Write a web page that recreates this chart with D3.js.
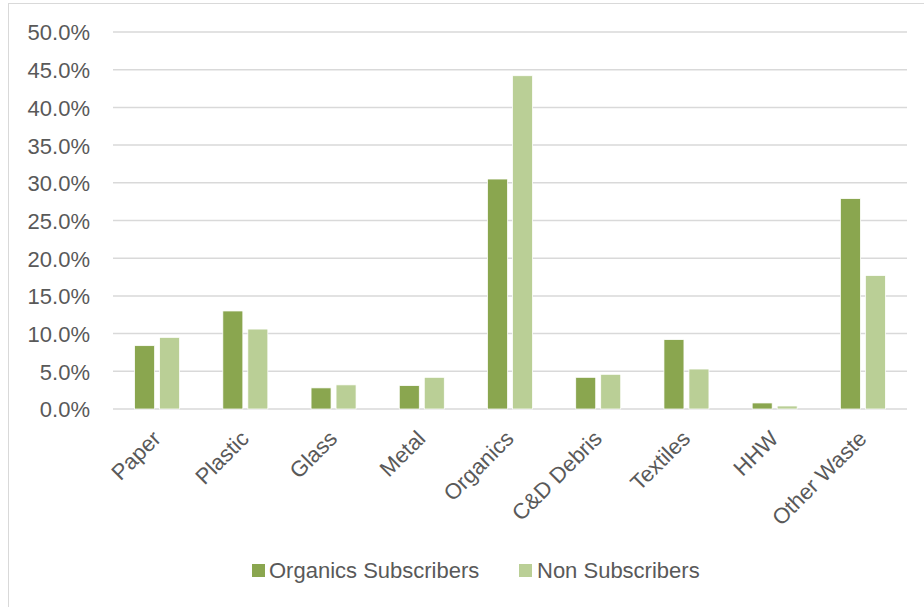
<!DOCTYPE html>
<html>
<head>
<meta charset="utf-8">
<script src="https://cdn.jsdelivr.net/npm/d3@7"></script>
<style>
  html, body { margin: 0; padding: 0; background: #fff; }
  svg { display: block; }
  text { font-family: "Liberation Sans", Arial, sans-serif; fill: #595959; }
</style>
</head>
<body>
<svg id="chart" width="924" height="607"></svg>
<script>
const categories = ["Paper", "Plastic", "Glass", "Metal", "Organics", "C&D Debris", "Textiles", "HHW", "Other Waste"];
const seriesNames = ["Organics Subscribers", "Non Subscribers"];
const organicsSubscribers = [8.4, 13.0, 2.8, 3.1, 30.5, 4.2, 9.2, 0.8, 27.9];
const nonSubscribers = [9.5, 10.6, 3.2, 4.2, 44.2, 4.6, 5.3, 0.4, 17.7];
const yTicks = [0, 5, 10, 15, 20, 25, 30, 35, 40, 45, 50];
const colors = ["#8aa64f", "#bacf96"];

const seriesValues = [organicsSubscribers, nonSubscribers];
const data = categories.map((c, i) => ({ cat: c, vals: seriesValues.map((s, j) => ({ series: seriesNames[j], value: s[i], idx: j })) }));

const svg = d3.select("#chart");
const margin = { left: 113, right: 907, top: 32, bottom: 409 };

// outer border
svg.append("rect").attr("x", 8.5).attr("y", 3.5).attr("width", 930).attr("height", 620)
  .attr("fill", "none").attr("stroke", "#d9d9d9").attr("stroke-width", 1);

const x0 = d3.scaleBand().domain(categories).range([margin.left, margin.right]).paddingInner(0).paddingOuter(0);
const groupW = x0.bandwidth() * 0.51;
const x1 = d3.scaleBand().domain(seriesNames).range([-groupW / 2, groupW / 2]).paddingInner(0.2).paddingOuter(0);
const y = d3.scaleLinear().domain([0, 50]).range([margin.bottom, margin.top]);

// gridlines
svg.append("g").selectAll("line").data(yTicks).join("line")
  .attr("x1", margin.left).attr("x2", margin.right)
  .attr("y1", d => y(d)).attr("y2", d => y(d))
  .attr("stroke", "#d9d9d9").attr("stroke-width", 1.5);

// y axis labels
const yAxis = d3.axisLeft(y).tickValues(yTicks).tickSize(0).tickPadding(0).tickFormat(d => d.toFixed(1) + "%");
const yg = svg.append("g").attr("transform", `translate(90,0)`).call(yAxis);
yg.select(".domain").remove();
yg.selectAll("text").style("font-size", "22px").attr("fill", "#595959")
  .attr("font-family", "Liberation Sans, Arial, sans-serif").attr("dy", "0.36em");

// bars
const groups = svg.append("g").selectAll("g").data(data).join("g")
  .attr("transform", d => `translate(${x0(d.cat) + x0.bandwidth() / 2},0)`);
groups.selectAll("rect").data(d => d.vals).join("rect")
  .attr("x", d => x1(d.series))
  .attr("width", x1.bandwidth())
  .attr("y", d => y(d.value))
  .attr("height", d => y(0) - y(d.value))
  .attr("fill", d => colors[d.idx])
  .attr("stroke", "#ffffff").attr("stroke-width", 0.75);

// x axis labels
const xAxis = d3.axisBottom(x0).tickSize(0).tickPadding(0);
const xg = svg.append("g").attr("transform", `translate(0,${margin.bottom})`).call(xAxis);
xg.select(".domain").remove();
xg.selectAll("text")
  .style("font-size", "22px").attr("fill", "#595959")
  .attr("font-family", "Liberation Sans, Arial, sans-serif")
  .attr("text-anchor", "end")
  .attr("dy", 0).attr("y", 0)
  .attr("transform", "translate(5,31) rotate(-45)");

// legend
const legendItems = [
  { name: seriesNames[0], color: colors[0], sx: 252, tx: 269 },
  { name: seriesNames[1], color: colors[1], sx: 519, tx: 537 }
];
const lg = svg.append("g");
legendItems.forEach(it => {
  lg.append("rect").attr("x", it.sx).attr("y", 564).attr("width", 13).attr("height", 13).attr("fill", it.color);
  lg.append("text").attr("x", it.tx).attr("y", 578).style("font-size", "22px").text(it.name);
});
</script>
</body>
</html>
